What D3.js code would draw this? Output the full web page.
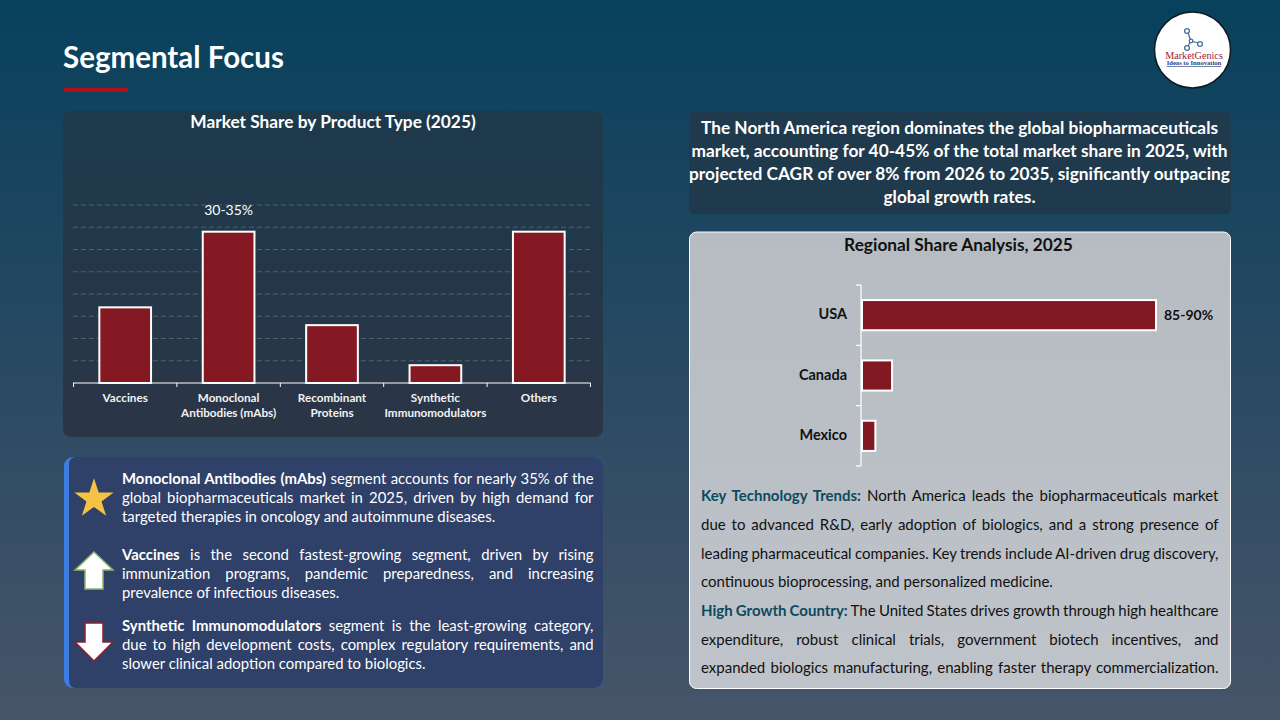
<!DOCTYPE html>
<html>
<head>
<meta charset="utf-8">
<script src="https://cdn.jsdelivr.net/npm/d3@7"></script>
<style>
  html, body { margin: 0; padding: 0; background: #0b4460; }
  svg { display: block; }
  text { font-family: Lato, "Open Sans", sans-serif; }
</style>
</head>
<body>
<div id="slide"></div>
<script>
// product type chart
var productTypes = ["Vaccines", "Monoclonal Antibodies (mAbs)", "Recombinant Proteins", "Synthetic Immunomodulators", "Others"];
var productLabels = [["Vaccines"], ["Monoclonal", "Antibodies (mAbs)"], ["Recombinant", "Proteins"], ["Synthetic", "Immunomodulators"], ["Others"]];
var productShares = [17, 34, 13, 4, 34];
var productTicks = [5, 10, 15, 20, 25, 30, 35, 40];

// regional chart
var regions = ["USA", "Canada", "Mexico"];
var regionShares = [88, 9, 4];

// text blocks, one entry per line, b = bold part
var focusLines = [
  [{b: "Monoclonal Antibodies (mAbs)", t: " segment accounts for nearly 35% of the"}, "global biopharmaceuticals market in 2025, driven by high demand for", "targeted therapies in oncology and autoimmune diseases."],
  [{b: "Vaccines", t: " is the second fastest-growing segment, driven by rising"}, "immunization programs, pandemic preparedness, and increasing", "prevalence of infectious diseases."],
  [{b: "Synthetic Immunomodulators", t: " segment is the least-growing category,"}, "due to high development costs, complex regulatory requirements, and", "slower clinical adoption compared to biologics."]
];
var headlineLines = [
  "The North America region dominates the global biopharmaceuticals",
  "market, accounting for 40-45% of the total market share in 2025, with",
  "projected CAGR of over 8% from 2026 to 2035, significantly outpacing",
  "global growth rates."
];
var trendLines = [
  {b: "Key Technology Trends:", t: " North America leads the biopharmaceuticals market"},
  "due to advanced R&D, early adoption of biologics, and a strong presence of",
  "leading pharmaceutical companies. Key trends include AI-driven drug discovery,",
  "continuous bioprocessing, and personalized medicine."
];
var countryLines = [
  {b: "High Growth Country:", t: " The United States drives growth through high healthcare"},
  "expenditure, robust clinical trials, government biotech incentives, and",
  "expanded biologics manufacturing, enabling faster therapy commercialization."
];

var svg = d3.select("#slide").append("svg").attr("width", 1280).attr("height", 720);
var defs = svg.append("defs");

function gradient(id, stops) {
  var g = defs.append("linearGradient").attr("id", id).attr("x1", 0).attr("y1", 0).attr("x2", 0).attr("y2", 1);
  stops.forEach(function(s) { g.append("stop").attr("offset", s[0]).attr("stop-color", s[1]); });
}
gradient("bg", [[0, "#07415c"], [0.3, "#1c4560"], [1, "#475569"]]);
gradient("panel", [[0, "#1c3a4c"], [1, "#2b3546"]]);
gradient("greyPanel", [[0, "#b6bcc2"], [1, "#bfc3ca"]]);

svg.append("rect").attr("width", 1280).attr("height", 720).attr("fill", "url(#bg)");

// title
svg.append("text").attr("x", 63).attr("y", 68).attr("fill", "#fff")
  .attr("font-size", 29.5).attr("font-weight", 700).text("Segmental Focus");
svg.append("rect").attr("x", 64).attr("y", 88).attr("width", 64).attr("height", 4).attr("fill", "#b30f17");

// logo
var logo = svg.append("g");
logo.append("circle").attr("cx", 1192.5).attr("cy", 50).attr("r", 38).attr("fill", "#fff").attr("stroke", "#0d1b24").attr("stroke-width", 1.5);
var nodes = [[1187, 31], [1191, 41], [1200, 44], [1187, 48]];
logo.append("path").attr("d", "M1188 33L1191 41M1191 41L1198 43M1191 41L1188 46")
  .attr("stroke", "#4a6f98").attr("stroke-width", 1.3).attr("fill", "none");
logo.selectAll("circle.node").data(nodes).enter().append("circle").attr("class", "node")
  .attr("cx", function(d) { return d[0]; }).attr("cy", function(d) { return d[1]; })
  .attr("r", function(d, i) { return i == 1 ? 1.8 : 2.4; })
  .attr("fill", "#fff").attr("stroke", "#4a6f98").attr("stroke-width", 1.3);
logo.append("text").attr("x", 1194).attr("y", 59).attr("text-anchor", "middle").attr("fill", "#a32035")
  .style("font-family", "'Liberation Serif', serif").attr("font-size", 10.2).text("MarketGenics");
logo.append("text").attr("x", 1194).attr("y", 65).attr("text-anchor", "middle").attr("fill", "#30407c")
  .style("font-family", "'Liberation Serif', serif").attr("font-size", 6.6).attr("font-weight", 700)
  .attr("text-decoration", "underline").text("Ideas to Innovation");

// panels
svg.append("rect").attr("x", 63).attr("y", 111).attr("width", 540).attr("height", 326).attr("rx", 8).attr("fill", "url(#panel)");
svg.append("rect").attr("x", 64).attr("y", 457).attr("width", 539).attr("height", 231).attr("rx", 9).attr("fill", "#3b7de0");
svg.append("path").attr("d", "M76 457H594a9 9 0 0 1 9 9V679a9 9 0 0 1 -9 9H76q-7 0 -7 -8V465q0 -8 7 -8Z").attr("fill", "#2f4069");
svg.append("rect").attr("x", 689).attr("y", 111).attr("width", 542).attr("height", 103).attr("rx", 6).attr("fill", "#1f3a4d");
svg.append("rect").attr("x", 689.5).attr("y", 232).attr("width", 541).attr("height", 456.5).attr("rx", 7).attr("fill", "url(#greyPanel)").attr("stroke", "#fff").attr("stroke-width", 1);

// bar chart
var x = d3.scaleBand().domain(productTypes).range([73.5, 590.5]).padding(0.5).paddingOuter(0.25);
var y = d3.scaleLinear().domain([0, 40]).range([383, 205]);

svg.append("g").selectAll("line").data(productTicks).enter().append("line")
  .attr("x1", 73).attr("x2", 590)
  .attr("y1", function(d) { return y(d); }).attr("y2", function(d) { return y(d); })
  .attr("stroke", "#5b6b7a").attr("stroke-width", 0.8).attr("stroke-dasharray", "5,3");

svg.append("g").selectAll("rect").data(productShares).enter().append("rect")
  .attr("x", function(d, i) { return x(productTypes[i]); })
  .attr("y", function(d) { return y(d); })
  .attr("width", x.bandwidth())
  .attr("height", function(d) { return y(0) - y(d); })
  .attr("fill", "#841923").attr("stroke", "#fff").attr("stroke-width", 2);

// axis baseline + separators between the categories
var xAxis = svg.append("g");
xAxis.append("line").attr("x1", 73).attr("x2", 590.5).attr("y1", 383).attr("y2", 383).attr("stroke", "#fff").attr("stroke-width", 1);
var step = x.step();
xAxis.selectAll("line.sep").data(d3.range(productTypes.length + 1)).enter().append("line").attr("class", "sep")
  .attr("x1", function(d) { return 73.5 + d * step; }).attr("x2", function(d) { return 73.5 + d * step; })
  .attr("y1", 383).attr("y2", 387).attr("stroke", "#fff").attr("stroke-width", 1);

var labels = svg.append("g").selectAll("text").data(productLabels).enter().append("text")
  .attr("text-anchor", "middle").attr("fill", "#f2f2f2").attr("font-size", 11.7).attr("font-weight", 700);
labels.selectAll("tspan").data(function(d, i) { return d.map(function(l) { return {l: l, i: i}; }); }).enter().append("tspan")
  .attr("x", function(d) { return x(productTypes[d.i]) + x.bandwidth() / 2; })
  .attr("y", function(d, j) { return 402 + j * 14.5; })
  .text(function(d) { return d.l; });

svg.append("text").attr("x", x(productTypes[1]) + x.bandwidth() / 2).attr("y", 215).attr("text-anchor", "middle")
  .attr("fill", "#fff").attr("font-size", 14).text("30-35%");
svg.append("text").attr("x", 333).attr("y", 128).attr("text-anchor", "middle")
  .attr("fill", "#fff").attr("font-size", 17.3).attr("font-weight", 700).text("Market Share by Product Type (2025)");

// regional chart
var ry = d3.scaleBand().domain(regions).range([285, 466]).padding(0.5).paddingOuter(0.25);
var rx = d3.scaleLinear().domain([0, 88]).range([862, 1156]);

svg.append("g").selectAll("rect").data(regionShares).enter().append("rect")
  .attr("x", rx(0))
  .attr("y", function(d, i) { return ry(regions[i]); })
  .attr("width", function(d) { return rx(d) - rx(0); })
  .attr("height", ry.bandwidth())
  .attr("fill", "#801922").attr("stroke", "#fff").attr("stroke-width", 2);

var yAxis = svg.append("g").attr("stroke", "#fff").attr("stroke-width", 1.2);
yAxis.append("line").attr("x1", 861).attr("x2", 861).attr("y1", 285).attr("y2", 466);
yAxis.selectAll("line.t").data(d3.range(regions.length + 1)).enter().append("line").attr("class", "t")
  .attr("x1", 856).attr("x2", 861)
  .attr("y1", function(d) { return 285 + d * ry.step(); }).attr("y2", function(d) { return 285 + d * ry.step(); });

svg.append("g").selectAll("text").data(regions).enter().append("text")
  .attr("x", 847).attr("y", function(d) { return ry(d) + ry.bandwidth() / 2 + 4; })
  .attr("text-anchor", "end").attr("fill", "#111").attr("font-size", 14.5).attr("font-weight", 700)
  .text(function(d) { return d; });
svg.append("text").attr("x", 1164).attr("y", 320).attr("fill", "#111").attr("font-size", 14).attr("font-weight", 700).text("85-90%");
svg.append("text").attr("x", 958.5).attr("y", 251).attr("text-anchor", "middle").attr("fill", "#111")
  .attr("font-size", 17.3).attr("font-weight", 700).text("Regional Share Analysis, 2025");

// one line of text, justified by word spacing when a width is given
function textLine(line, opt) {
  var el = svg.append("text").attr("y", opt.y).attr("fill", opt.fill).attr("font-size", opt.size);
  var isObj = typeof line != "string";
  if (isObj) {
    el.append("tspan").attr("font-weight", 700).attr("fill", opt.boldFill || opt.fill).text(line.b);
    el.append("tspan").attr("font-weight", opt.weight || 400).text(line.t);
  } else {
    el.text(line).attr("font-weight", opt.weight || 400);
  }
  if (opt.width) {
    var words = (isObj ? line.b + line.t : line).split(" ").length - 1;
    var extra = (opt.width - el.node().getComputedTextLength()) / words;
    el.attr("word-spacing", extra);
    el.attr("x", opt.x);
  } else if (opt.center) {
    el.attr("x", opt.center).attr("text-anchor", "middle");
  } else {
    el.attr("x", opt.x);
  }
}

var focusY = [484, 560, 631];
focusLines.forEach(function(block, i) {
  block.forEach(function(line, j) {
    textLine(line, {x: 122, y: focusY[i] + j * 19, size: 14.9, fill: "#fff", width: j < 2 ? 471.5 : 0});
  });
});

headlineLines.forEach(function(line, i) {
  textLine(line, {center: 959.5, y: 133.5 + i * 23, size: 17.3, fill: "#fff", weight: 700});
});

trendLines.forEach(function(line, i) {
  textLine(line, {x: 701, y: 501 + i * 28.8, size: 15, fill: "#111", boldFill: "#0c4a5e", width: i < 3 ? 517.5 : 0});
});
countryLines.forEach(function(line, i) {
  textLine(line, {x: 701, y: 616 + i * 28.5, size: 15, fill: "#111", boldFill: "#0c4a5e", width: 517.5});
});

// star and arrows
var star = d3.symbol().type(d3.symbolStar).size(480);
svg.append("path").attr("d", star()).attr("transform", "translate(94,499)").attr("fill", "#f4c244");
svg.append("path").attr("d", "M94 552L113 570H103V589H85V570H75Z").attr("fill", "#fff").attr("stroke", "#8fb26c").attr("stroke-width", 1.5);
svg.append("path").attr("d", "M85 623H103V642H113L94 661L75 642H85Z").attr("fill", "#fff").attr("stroke", "#8e1f2b").attr("stroke-width", 1.5);
</script>
</body>
</html>
